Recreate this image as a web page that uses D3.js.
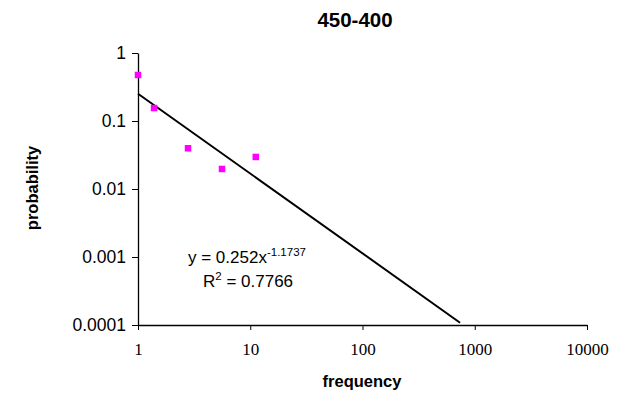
<!DOCTYPE html>
<html>
<head>
<meta charset="utf-8">
<script src="https://cdn.jsdelivr.net/npm/d3@7"></script>
<style>
  html, body { margin: 0; padding: 0; background: #fff; }
  svg { display: block; }
</style>
</head>
<body>
<svg id="chart" width="619" height="397"></svg>
<script>
// ---- data ----
const title = "450-400";
const xLabel = "frequency";
const yLabel = "probability";
const frequency = [1, 1.39, 2.79, 5.6, 11.2];
const probability = [0.475, 0.155, 0.0397, 0.0197, 0.0296];
const xTicks = [1, 10, 100, 1000, 10000];
const xTickLabels = ["1", "10", "100", "1000", "10000"];
const yTicks = [1, 0.1, 0.01, 0.001, 0.0001];
const yTickLabels = ["1", "0.1", "0.01", "0.001", "0.0001"];
const trendCoef = 0.252;
const trendExp = -1.1737;
const trendRange = [1, 740];
const trendR2 = "0.7766";

// ---- layout ----
const svg = d3.select("#chart");
const x = d3.scaleLog().domain([1, 10000]).range([138, 587]);
const y = d3.scaleLog().domain([0.0001, 1]).range([325, 53]);

// title
svg.append("text")
  .attr("x", 355).attr("y", 27)
  .attr("text-anchor", "middle")
  .style("font-family", "'Liberation Sans', Arial, sans-serif")
  .style("font-weight", "bold").style("font-size", "20.5px")
  .text(title);

// x axis
const xAxis = d3.axisBottom(x)
  .tickValues(xTicks)
  .tickFormat((d, i) => xTickLabels[i])
  .tickSizeInner(5).tickSizeOuter(0).tickPadding(13);
const gx = svg.append("g").attr("transform", "translate(0,325)").call(xAxis);
gx.select(".domain").attr("stroke", "#000").attr("stroke-width", 1.3);
gx.selectAll(".tick line").attr("stroke", "#000").attr("stroke-width", 1);
gx.selectAll(".tick text")
  .style("font-family", "'Liberation Serif', 'Times New Roman', serif")
  .style("font-size", "17px").attr("fill", "#000");

// y axis
const yAxis = d3.axisLeft(y)
  .tickValues(yTicks)
  .tickFormat((d, i) => yTickLabels[i])
  .tickSizeInner(6).tickSizeOuter(0).tickPadding(6);
const gy = svg.append("g").attr("transform", "translate(138,0)").call(yAxis);
gy.select(".domain").attr("stroke", "#000").attr("stroke-width", 1.3);
gy.selectAll(".tick line").attr("stroke", "#000").attr("stroke-width", 1);
gy.selectAll(".tick text")
  .style("font-family", "'Liberation Sans', Arial, sans-serif")
  .style("font-size", "17.5px").attr("fill", "#000");

// axis titles
svg.append("text")
  .attr("x", 362).attr("y", 387)
  .attr("text-anchor", "middle")
  .style("font-family", "'Liberation Sans', Arial, sans-serif")
  .style("font-weight", "bold").style("font-size", "16.5px")
  .text(xLabel);
svg.append("text")
  .attr("transform", "translate(38,188) rotate(-90)")
  .attr("text-anchor", "middle")
  .style("font-family", "'Liberation Sans', Arial, sans-serif")
  .style("font-weight", "bold").style("font-size", "16.5px")
  .text(yLabel);

// trend line
const trendData = trendRange.map(f => ({ f, p: trendCoef * Math.pow(f, trendExp) }));
svg.append("path")
  .datum(trendData)
  .attr("fill", "none").attr("stroke", "#000").attr("stroke-width", 2)
  .attr("d", d3.line().x(d => x(d.f)).y(d => y(d.p)));

// data points
const pts = frequency.map((f, i) => ({ f, p: probability[i] }));
const ms = 6.5;
svg.append("g").selectAll("rect").data(pts).join("rect")
  .attr("x", d => x(d.f) - ms / 2)
  .attr("y", d => y(d.p) - ms / 2)
  .attr("width", ms).attr("height", ms)
  .attr("fill", "#ff00ff");

// equation label
const eq = svg.append("text")
  .attr("x", 188).attr("y", 263)
  .style("font-family", "'Liberation Sans', Arial, sans-serif")
  .style("font-size", "17px").attr("fill", "#000");
eq.append("tspan").text("y = " + trendCoef + "x");
eq.append("tspan").attr("dy", -7).style("font-size", "11.5px").text(String(trendExp));
const r2 = svg.append("text")
  .attr("x", 203).attr("y", 287)
  .style("font-family", "'Liberation Sans', Arial, sans-serif")
  .style("font-size", "17px").attr("fill", "#000");
r2.append("tspan").text("R");
r2.append("tspan").attr("dy", -7).style("font-size", "11.5px").text("2");
r2.append("tspan").attr("dy", 7).text(" = " + trendR2);
</script>
</body>
</html>
